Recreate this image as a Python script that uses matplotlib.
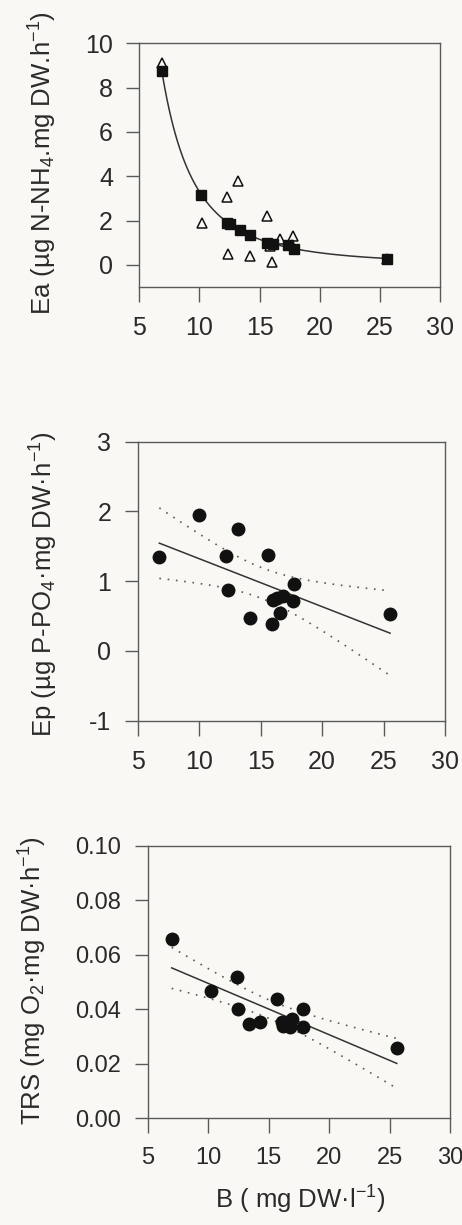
import numpy as np
import matplotlib
matplotlib.use("Agg")
import matplotlib.pyplot as plt

# ---------------- data ----------------
# Panel 1: Ea vs B  (filled squares = fitted/curve points, open triangles = observed)
ea_sq_x = [6.9, 10.1, 12.3, 12.5, 13.4, 14.2, 15.6, 16.1, 17.4, 17.9, 25.6]
ea_sq_y = [8.76, 3.15, 1.90, 1.84, 1.56, 1.33, 1.00, 0.92, 0.90, 0.71, 0.28]
ea_tr_x = [6.9, 10.2, 12.3, 13.2, 12.4, 14.2, 15.6, 16.0, 15.9, 16.7, 17.8, 17.7, 25.6]
ea_tr_y = [9.1, 1.88, 3.08, 3.78, 0.48, 0.40, 2.2, 0.11, 0.85, 1.16, 1.30, 0.90, 0.25]

# Panel 2: Ep vs B
ep_x = [6.76, 10.01, 12.18, 12.37, 13.19, 14.14, 15.58, 15.9, 16.04, 16.36, 16.58, 16.85, 17.66, 17.74, 25.53]
ep_y = [1.343, 1.953, 1.357, 0.881, 1.753, 0.476, 1.381, 0.39, 0.724, 0.753, 0.548, 0.786, 0.714, 0.962, 0.533]

# Panel 3: TRS vs B
trs_x = [6.98, 10.24, 12.36, 12.5, 13.4, 14.29, 15.67, 16.08, 16.2, 16.77, 16.9, 17.87, 17.82, 25.6]
trs_y = [0.0656, 0.0468, 0.0517, 0.0400, 0.0346, 0.0354, 0.0437, 0.0354, 0.0338, 0.0336, 0.0363, 0.0400, 0.0336, 0.0257]

# t quantiles (0.975) for n-2 degrees of freedom
t_ep = 2.160
t_trs = 2.179

x_ticks = [5, 10, 15, 20, 25, 30]
ea_ticks = [0, 2, 4, 6, 8, 10]
ep_ticks = [-1, 0, 1, 2, 3]
trs_ticks = [0.00, 0.02, 0.04, 0.06, 0.08, 0.10]

# ---------------- style ----------------
plt.rcParams['font.family'] = ['Liberation Sans', 'DejaVu Sans']
plt.rcParams['mathtext.fontset'] = 'custom'
plt.rcParams['mathtext.rm'] = 'Liberation Sans'
plt.rcParams['mathtext.it'] = 'Liberation Sans:italic'
plt.rcParams['mathtext.bf'] = 'Liberation Sans:bold'
plt.rcParams['axes.unicode_minus'] = False

BG = '#f9f8f4'
TXT = '#2a2a2a'
SPN = '#5a5a5a'
MK = '#111111'
LN = '#333333'

W, H = 462, 1225
fig = plt.figure(figsize=(W / 100, H / 100), dpi=100, facecolor=BG)


def make_ax(l, t, r, b):
    ax = fig.add_axes([l / W, 1 - b / H, (r - l) / W, (b - t) / H])
    ax.set_facecolor(BG)
    for s in ax.spines.values():
        s.set_color(SPN)
        s.set_linewidth(1.0)
    return ax


def style(ax, fs, xpad=10, ypad=9.5):
    ax.tick_params(axis='y', direction='out', length=9.5, width=1.0, color=SPN,
                   labelsize=fs, labelcolor=TXT, pad=ypad)
    ax.tick_params(axis='x', direction='out', length=11, width=1.0, color=SPN,
                   labelsize=fs, labelcolor=TXT, pad=xpad)
    ax.set_xlim(5, 30)
    ax.set_xticks(x_ticks)


def lin_ci(x, y, tval):
    x = np.asarray(x, float)
    y = np.asarray(y, float)
    n = len(x)
    b, a = np.polyfit(x, y, 1)
    res = y - (a + b * x)
    s = np.sqrt(np.sum(res ** 2) / (n - 2))
    xm = x.mean()
    sxx = np.sum((x - xm) ** 2)
    xs = np.linspace(x.min(), x.max(), 100)
    yh = a + b * xs
    hw = tval * s * np.sqrt(1 / n + (xs - xm) ** 2 / sxx)
    return xs, yh, yh - hw, yh + hw


# ---------------- Panel 1 ----------------
ax1 = make_ax(139.3, 43.3, 440, 287)
style(ax1, 18)
ax1.set_ylim(-1, 10)
ax1.set_yticks(ea_ticks)
lx = np.log(ea_sq_x)
ly = np.log(ea_sq_y)
pb, pa = np.polyfit(lx, ly, 1)
xc = np.linspace(min(ea_sq_x), max(ea_sq_x), 200)
ax1.plot(xc, np.exp(pa) * xc ** pb, color=LN, lw=1.1, zorder=2)
ax1.plot(ea_sq_x, ea_sq_y, 's', color=MK, ms=6.8, mec=MK, zorder=3)
ax1.plot(ea_tr_x, ea_tr_y, '^', mfc='none', mec=MK, mew=1.1, ms=7.8, zorder=4)
ax1.set_ylabel('Ea (µg N-NH$_4$.mg DW.h$^{-1}$)', fontsize=18.5, color=TXT, va='center')
ax1.yaxis.set_label_coords(-0.322, 0.508)

# ---------------- Panel 2 ----------------
ax2 = make_ax(137.7, 441.7, 445, 720.7)
style(ax2, 18)
ax2.set_ylim(-1, 3)
ax2.set_yticks(ep_ticks)
xs, yh, lo, hi = lin_ci(ep_x, ep_y, t_ep)
ax2.plot(xs, yh, color=LN, lw=1.1, zorder=2)
ax2.plot(xs, lo, color=SPN, lw=1.2, ls=(0, (1, 4)), zorder=2)
ax2.plot(xs, hi, color=SPN, lw=1.2, ls=(0, (1, 4)), zorder=2)
ax2.plot(ep_x, ep_y, 'o', color=MK, ms=9, zorder=3)
ax2.set_ylabel('Ep (µg P-PO$_4$·mg DW·h$^{-1}$)', fontsize=18.5, color=TXT, va='center')
ax2.yaxis.set_label_coords(-0.305, 0.488)

# ---------------- Panel 3 ----------------
ax3 = make_ax(147.7, 845.7, 450, 1118.3)
style(ax3, 17)
ax3.set_ylim(0, 0.10)
ax3.set_yticks(trs_ticks)
ax3.set_yticklabels([f'{v:.2f}' for v in trs_ticks])
xs, yh, lo, hi = lin_ci(trs_x, trs_y, t_trs)
ax3.plot(xs, yh, color=LN, lw=1.1, zorder=2)
ax3.plot(xs, lo, color=SPN, lw=1.2, ls=(0, (1, 4)), zorder=2)
ax3.plot(xs, hi, color=SPN, lw=1.2, ls=(0, (1, 4)), zorder=2)
ax3.plot(trs_x, trs_y, 'o', color=MK, ms=9, zorder=3)
ax3.set_ylabel('TRS (mg O$_2$·mg DW·h$^{-1}$)', fontsize=18.5, color=TXT, va='center')
ax3.yaxis.set_label_coords(-0.379, 0.505)
ax3.set_xlabel('B ( mg DW·l$^{-1}$)', fontsize=18.5, color=TXT, va='center')
ax3.xaxis.set_label_coords(0.504, -0.30)

fig.savefig('out.png', dpi=100, facecolor=BG)
